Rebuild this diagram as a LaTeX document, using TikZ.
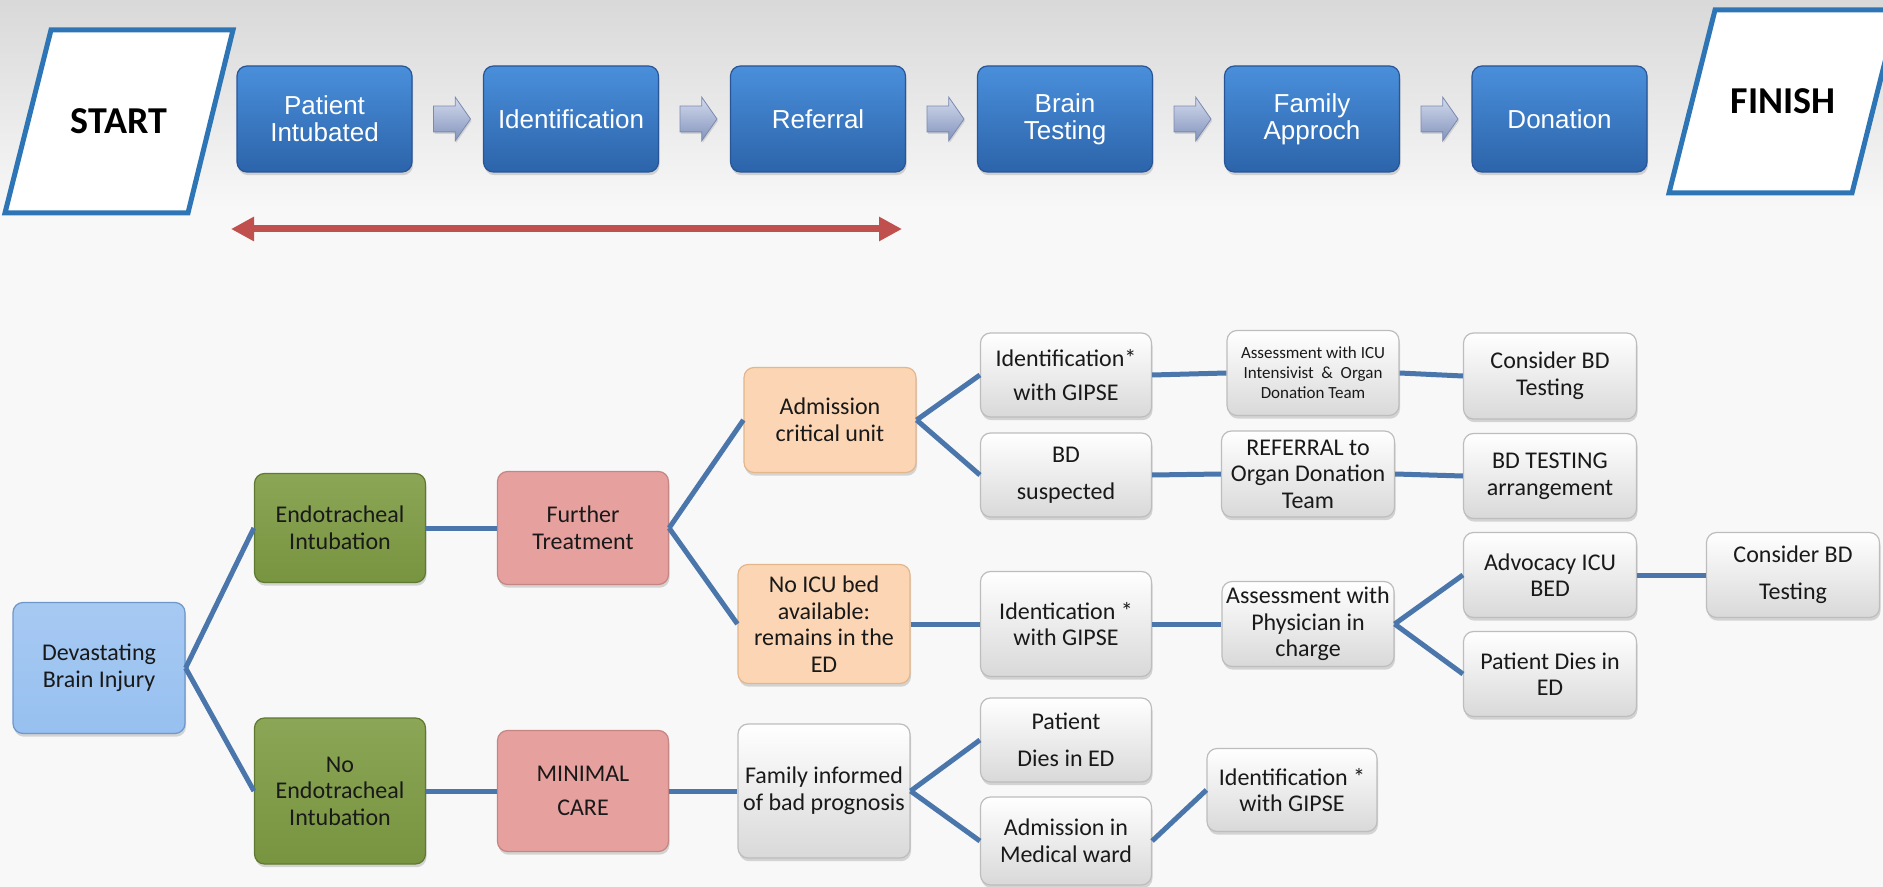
\documentclass[tikz,border=0pt]{standalone}
\usepackage{fontspec}
\setmainfont{Carlito}
\newfontfamily\arialfont{Liberation Sans}
\usetikzlibrary{shapes.arrows,shadows,arrows.meta}

\definecolor{bgcol}{HTML}{F8F8F8}
\definecolor{frameblue}{HTML}{2E75B6}
\definecolor{stagetop}{HTML}{4A8FDB}
\definecolor{stagebot}{HTML}{2C64AA}
\definecolor{stageline}{HTML}{275597}
\definecolor{chevtop}{HTML}{D2DAEC}
\definecolor{chevbot}{HTML}{8393BC}
\definecolor{chevline}{HTML}{7A89B0}
\definecolor{linkblue}{HTML}{4A76AC}
\definecolor{redarrow}{HTML}{C0504D}
\definecolor{dbiblue}{HTML}{97C0F0}
\definecolor{dbiline}{HTML}{6E98CA}
\definecolor{greenbox}{HTML}{7E9C43}
\definecolor{greenline}{HTML}{5F7A30}
\definecolor{pinkbox}{HTML}{E6A19F}
\definecolor{pinkline}{HTML}{C48583}
\definecolor{peachbox}{HTML}{FCD6B4}
\definecolor{peachline}{HTML}{E3B68C}
\definecolor{grayline}{HTML}{BDBDBD}

\tikzset{
	box/.style={rounded corners=5pt, align=center, inner sep=1pt, line width=0.6pt,
		drop shadow={opacity=0.3, shadow xshift=0.5pt, shadow yshift=-1.6pt},
		font=\fontsize{12}{13.3}\selectfont, text=black!90},
	size/.style 2 args={minimum width=#1pt, minimum height=#2pt},
	stage/.style={box, top color=stagetop, bottom color=stagebot, draw=stageline,
		text=white, font=\arialfont\fontsize{13}{13.5}\selectfont, size={87.5}{53}},
	chevron/.style={shape=single arrow, inner xsep=0pt, inner ysep=6.25pt,
		minimum height=18.5pt, single arrow head extend=4.5pt,
		single arrow tip angle=110, top color=chevtop, bottom color=chevbot,
		draw=chevline, line width=0.4pt,
		drop shadow={opacity=0.25, shadow xshift=0.5pt, shadow yshift=-1pt}},
	endbox/.style={draw=frameblue, line width=2.5pt, fill=white},
	endtext/.style={font=\fontsize{19}{19}\selectfont\bfseries, text=black},
	dbi/.style={box, top color=dbiblue!85!white, bottom color=dbiblue, draw=dbiline},
	green/.style={box, top color=greenbox!90!white, bottom color=greenbox!95!black, draw=greenline},
	pink/.style={box, fill=pinkbox, draw=pinkline},
	peach/.style={box, fill=peachbox, draw=peachline},
	grey/.style={box, top color=white, bottom color=black!15, draw=grayline},
	link/.style={draw=linkblue, line width=2.5pt},
}

\begin{document}
\begin{tikzpicture}[x=0.5pt, y=-0.5pt]
	% background
	\clip (0,0) rectangle (1883,887);
	\fill[bgcol] (0,0) rectangle (1883,887);
	\shade[top color=black!15, bottom color=bgcol] (0,0) rectangle (1883,210);

	% start and finish
	\draw[endbox] (51,30) -- (233,30) -- (188,213) -- (5,213) -- cycle;
	\node[endtext] (start) at (119,121) {START};
	\draw[endbox] (1715,10) -- (1898,10) -- (1852,193) -- (1669,193) -- cycle;
	\node[endtext] (finish) at (1783,101) {FINISH};

	% stages
	\node[stage] (pi) at (324.5,119) {Patient\\Intubated};
	\node[stage] (ident) at (571,119) {Identification};
	\node[stage] (refer) at (818,119) {Referral};
	\node[stage] (brain) at (1065,119) {Brain\\Testing};
	\node[stage] (famapp) at (1312,119) {Family\\Approch};
	\node[stage] (donat) at (1559.5,119) {Donation};
	\foreach \ax [count=\i] in {447.5,694,941,1188,1435}
		\node[chevron] (chev\i) at (\ax,119) {};

	% time span
	\coordinate (spanl) at (231,229);
	\coordinate (spanr) at (902,229);
	\draw[redarrow, line width=3.5pt,
		{Triangle[length=11.5pt,width=11.5pt]}-{Triangle[length=11.5pt,width=11.5pt]}]
		(spanl) -- (spanr);

	% tree
	\node[dbi, size={86}{65.5}] (dbi) at (99,668) {Devastating\\Brain Injury};
	\node[green, size={85.5}{54.5}] (endo) at (340,528) {Endotracheal\\Intubation};
	\node[green, size={85.5}{73}] (noendo) at (340,791) {No\\Endotracheal\\Intubation};
	\node[pink, size={85.5}{56.5}] (further) at (583,528) {Further\\Treatment};
	\node[pink, size={85.5}{60.5}] (minimal) at (583,791) {MINIMAL\\[4pt]CARE};
	\node[peach, size={86}{52.5}] (admcrit) at (830,420) {Admission\\critical unit};
	\node[peach, size={86}{59.5}] (noicu) at (824,624) {No ICU bed\\available:\\remains in the\\ED};
	\node[grey, size={86}{67}] (faminf) at (824,791) {Family informed\\of bad prognosis};

	\node[grey, size={85.5}{42}] (idgone) at (1066,375) {Identification*\\[4pt]with GIPSE};
	\node[grey, size={85.5}{42}] (bdsus) at (1066,475) {BD\\[5pt]suspected};
	\node[grey, size={86}{42.5}, font=\fontsize{8.5}{10}\selectfont] (assicu) at (1313,373)
		{Assessment with ICU\\Intensivist~~\&~~Organ\\Donation Team};
	\node[grey, size={86.5}{43}] (refodt) at (1308,474) {REFERRAL to\\Organ Donation\\Team};
	\node[grey, size={86.5}{43}] (cbdone) at (1550,376) {Consider BD\\Testing};
	\node[grey, size={86.5}{42.5}] (bdtest) at (1550,476) {BD TESTING\\arrangement};

	\node[grey, size={85.5}{52.5}] (idgtwo) at (1066,624) {Identication *\\with GIPSE};
	\node[grey, size={86}{42.5}] (assphy) at (1308,624) {Assessment with\\Physician in\\charge};
	\node[grey, size={86.5}{42.5}] (advicu) at (1550,575) {Advocacy ICU\\BED};
	\node[grey, size={86.5}{42.5}] (cbdtwo) at (1793,575) {Consider BD\\[5pt]Testing};
	\node[grey, size={86.5}{42.5}] (pdiestwo) at (1550,674) {Patient Dies in\\ED};

	\node[grey, size={85.5}{42}] (pdiesone) at (1066,740) {Patient\\[5pt]Dies in ED};
	\node[grey, size={85.5}{44}] (admmed) at (1066,841) {Admission in\\Medical ward};
	\node[grey, size={85}{41.5}] (idgthree) at (1292,790) {Identification *\\with GIPSE};

	% links
	\draw[link] (dbi.east) -- (endo.west);
	\draw[link] (dbi.east) -- (noendo.west);
	\draw[link] (endo.east) -- (further.west);
	\draw[link] (noendo.east) -- (minimal.west);
	\draw[link] (further.east) -- (admcrit.west);
	\draw[link] (further.east) -- (noicu.west);
	\draw[link] (minimal.east) -- (faminf.west);
	\draw[link] (admcrit.east) -- (idgone.west);
	\draw[link] (admcrit.east) -- (bdsus.west);
	\draw[link] (idgone.east) -- (assicu.west);
	\draw[link] (assicu.east) -- (cbdone.west);
	\draw[link] (bdsus.east) -- (refodt.west);
	\draw[link] (refodt.east) -- (bdtest.west);
	\draw[link] (noicu.east) -- (idgtwo.west);
	\draw[link] (idgtwo.east) -- (assphy.west);
	\draw[link] (assphy.east) -- (advicu.west);
	\draw[link] (assphy.east) -- (pdiestwo.west);
	\draw[link] (advicu.east) -- (cbdtwo.west);
	\draw[link] (faminf.east) -- (pdiesone.west);
	\draw[link] (faminf.east) -- (admmed.west);
	\draw[link] (admmed.east) -- (idgthree.west);
\end{tikzpicture}
\end{document}
